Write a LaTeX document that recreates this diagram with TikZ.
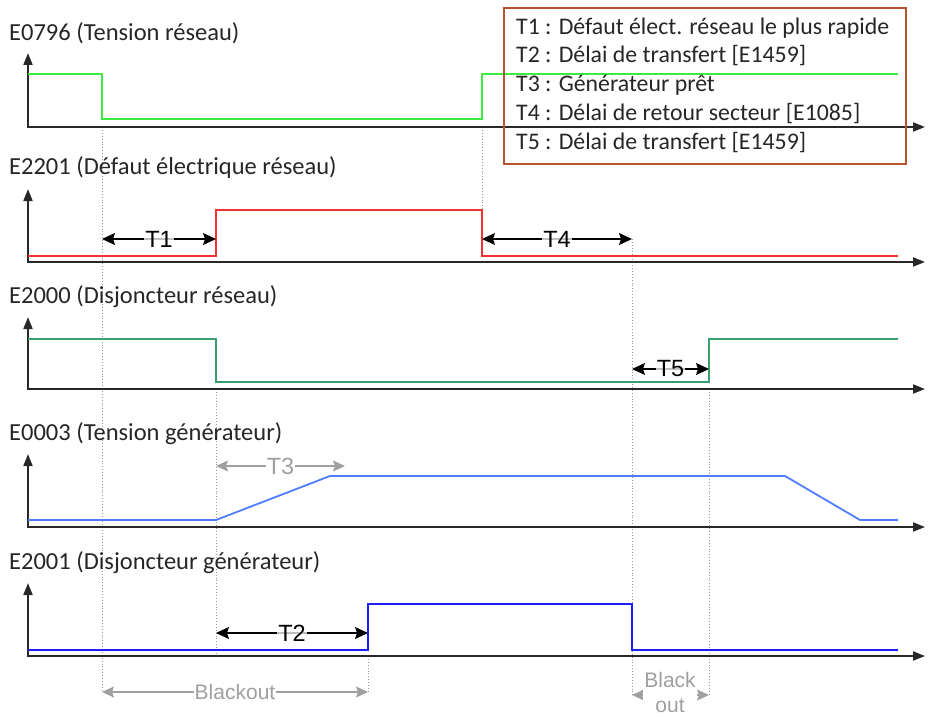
\documentclass[tikz,border=0pt]{standalone}
\usepackage{fontspec}
\setmainfont{Carlito}
\newfontfamily\arialf{Liberation Sans}
\usetikzlibrary{arrows.meta}
\definecolor{sigA}{RGB}{60,235,60}
\definecolor{sigB}{RGB}{245,50,50}
\definecolor{sigC}{RGB}{55,160,110}
\definecolor{sigD}{RGB}{80,125,255}
\definecolor{sigE}{RGB}{30,30,250}
\definecolor{legbrown}{RGB}{180,85,45}
\definecolor{axisgray}{RGB}{40,40,40}
\definecolor{dimgray}{RGB}{160,160,160}
\begin{document}
\begin{tikzpicture}[x=1pt,y=-1pt,
  axisline/.style={line width=1.8pt, draw=axisgray, {Triangle[length=12pt,width=9pt]}-{Triangle[length=12pt,width=9pt]}},
  sigline/.style={line width=1.8pt},
  guide/.style={draw=gray!80, line width=0.9pt, dotted},
  title/.style={anchor=west, inner sep=0pt, font=\fontsize{24.5}{24.5}\selectfont, text=black!85},
  legtext/.style={anchor=west, inner sep=0pt, font=\fontsize{23.8}{23.8}\selectfont, text=black!85},
  dimarrow/.style={line width=1.3pt, {Stealth[length=13pt,width=12pt,inset=2pt]}-{Stealth[length=13pt,width=12pt,inset=2pt]}},
  dimlabel/.style={fill=white, fill opacity=0.75, text opacity=1, inner sep=1pt, font=\arialf\fontsize{23.5}{23.5}\selectfont},
  graydim/.style={line width=1.3pt, draw=dimgray, {Stealth[length=12pt,width=11pt,inset=2pt]}-{Stealth[length=12pt,width=11pt,inset=2pt]}},
  graylabel/.style={fill=white, inner sep=1pt, text=dimgray, font=\arialf\fontsize{21}{25}\selectfont}
]
\useasboundingbox (0,0) rectangle (929,717);

% ---------- vertical dotted guides ----------
\coordinate (ga1) at (102,127); \coordinate (ga2) at (102,692);
\coordinate (gb1) at (216,389); \coordinate (gb2) at (216,656);
\coordinate (gc1) at (368,656); \coordinate (gc2) at (368,692);
\coordinate (gd1) at (482,127); \coordinate (gd2) at (482,210);
\coordinate (ge1) at (632,239); \coordinate (ge2) at (632,695);
\coordinate (gf1) at (709,389); \coordinate (gf2) at (709,695);
\draw[guide] (ga1) -- (ga2);
\draw[guide] (gb1) -- (gb2);
\draw[guide] (gc1) -- (gc2);
\draw[guide] (gd1) -- (gd2);
\draw[guide] (ge1) -- (ge2);
\draw[guide] (gf1) -- (gf2);

% ---------- Panel 1 ----------
\node[title] (t1) at (9,33) {E0796 (Tension réseau)};
\coordinate (p1top) at (28,53); \coordinate (p1o) at (28,127); \coordinate (p1end) at (925,127);
\draw[axisline] (p1top) -- (p1o) -- (p1end);
\draw[sigline, draw=sigA] (28,74) -- (102,74) -- (102,119) -- (482,119) -- (482,74) -- (898,74);

% legend
\draw[legbrown, line width=1.5pt] (504,8) rectangle (906,164);
\node[legtext] (l1) at (516,28) {T1 : Défaut élect. réseau le plus rapide};
\node[legtext] (l2) at (516,56) {T2 : Délai de transfert [E1459]};
\node[legtext] (l3) at (516,85) {T3 : Générateur prêt};
\node[legtext] (l4) at (516,114) {T4 : Délai de retour secteur [E1085]};
\node[legtext] (l5) at (516,143) {T5 : Délai de transfert [E1459]};

% ---------- Panel 2 ----------
\node[title] (t2) at (9,168) {E2201 (Défaut électrique réseau)};
\coordinate (p2top) at (28,189); \coordinate (p2o) at (28,262); \coordinate (p2end) at (925,262);
\draw[axisline] (p2top) -- (p2o) -- (p2end);
\draw[sigline, draw=sigB] (28,256) -- (216,256) -- (216,210) -- (482,210) -- (482,256) -- (898,256);
\coordinate (T1a) at (102,239); \coordinate (T1b) at (216,239);
\draw[dimarrow] (T1a) -- (T1b) node[dimlabel, midway] (T1lab) {T1};
\coordinate (T4a) at (482,239); \coordinate (T4b) at (632,239);
\draw[dimarrow] (T4a) -- (T4b) node[dimlabel, midway] (T4lab) {T4};

% ---------- Panel 3 ----------
\node[title] (t3) at (9,297) {E2000 (Disjoncteur réseau)};
\coordinate (p3top) at (28,317); \coordinate (p3o) at (28,389); \coordinate (p3end) at (925,389);
\draw[axisline] (p3top) -- (p3o) -- (p3end);
\draw[sigline, draw=sigC] (28,339) -- (216,339) -- (216,382) -- (709,382) -- (709,339) -- (898,339);
\coordinate (T5a) at (632,369); \coordinate (T5b) at (709,369);
\draw[dimarrow] (T5a) -- (T5b) node[dimlabel, midway] (T5lab) {T5};

% ---------- Panel 4 ----------
\node[title] (t4) at (9,434) {E0003 (Tension générateur)};
\coordinate (p4top) at (28,454); \coordinate (p4o) at (28,527); \coordinate (p4end) at (925,527);
\draw[axisline] (p4top) -- (p4o) -- (p4end);
\draw[sigline, draw=sigD] (28,520) -- (216,520) -- (330,476) -- (785,476) -- (860,520) -- (898,520);
\coordinate (T3a) at (216,466); \coordinate (T3b) at (345,466);
\draw[graydim] (T3a) -- (T3b) node[graylabel, midway, font=\arialf\fontsize{23.5}{23.5}\selectfont] (T3lab) {T3};

% ---------- Panel 5 ----------
\node[title] (t5) at (9,563) {E2001 (Disjoncteur générateur)};
\coordinate (p5top) at (28,583); \coordinate (p5o) at (28,656); \coordinate (p5end) at (925,656);
\draw[axisline] (p5top) -- (p5o) -- (p5end);
\draw[sigline, draw=sigE] (28,650) -- (368,650) -- (368,604) -- (632,604) -- (632,650) -- (898,650);
\coordinate (T2a) at (216,633); \coordinate (T2b) at (368,633);
\draw[dimarrow] (T2a) -- (T2b) node[dimlabel, midway] (T2lab) {T2};

% ---------- Blackout ----------
\coordinate (B1a) at (102,692); \coordinate (B1b) at (368,692);
\draw[graydim] (B1a) -- (B1b) node[graylabel, midway] (B1lab) {Blackout};
\coordinate (B2a) at (632,695); \coordinate (B2b) at (709,695);
\draw[graydim] (B2a) -- (B2b);
\node[graylabel, align=center] (B2lab) at (670,692) {Black\\out};
\end{tikzpicture}
\end{document}
